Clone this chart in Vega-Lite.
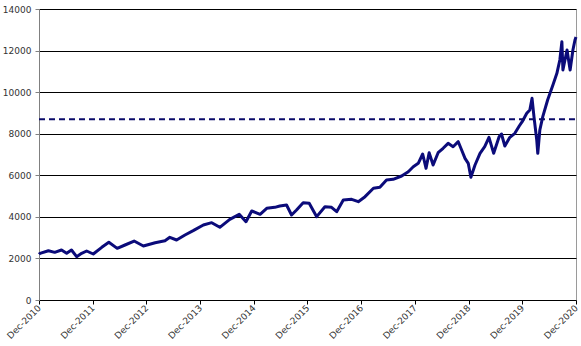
{
  "$schema": "https://vega.github.io/schema/vega-lite/v6.json",
  "width": 537,
  "height": 291,
  "autosize": {"type": "none"},
  "padding": {"left": 39, "top": 9, "right": 5, "bottom": 46},
  "background": "white",
  "config": {
    "view": {"stroke": "#9a9a9a", "strokeWidth": 1},
    "font": "DejaVu Sans"
  },
  "datasets": {
    "series": [
      {"date": "2010-12-01", "value": 2200},
      {"date": "2010-12-08", "value": 2246},
      {"date": "2011-02-03", "value": 2372},
      {"date": "2011-03-18", "value": 2293},
      {"date": "2011-05-03", "value": 2405},
      {"date": "2011-06-07", "value": 2246},
      {"date": "2011-07-10", "value": 2405},
      {"date": "2011-08-14", "value": 2085},
      {"date": "2011-09-17", "value": 2246},
      {"date": "2011-10-21", "value": 2357},
      {"date": "2011-12-05", "value": 2213},
      {"date": "2012-02-01", "value": 2534},
      {"date": "2012-03-20", "value": 2775},
      {"date": "2012-05-16", "value": 2485},
      {"date": "2012-07-08", "value": 2646},
      {"date": "2012-09-08", "value": 2838},
      {"date": "2012-11-10", "value": 2598},
      {"date": "2013-01-29", "value": 2757},
      {"date": "2013-04-06", "value": 2855},
      {"date": "2013-05-09", "value": 3016},
      {"date": "2013-06-24", "value": 2887},
      {"date": "2013-08-20", "value": 3127},
      {"date": "2013-10-15", "value": 3335},
      {"date": "2013-12-23", "value": 3608},
      {"date": "2014-02-18", "value": 3720},
      {"date": "2014-04-14", "value": 3497},
      {"date": "2014-06-21", "value": 3882},
      {"date": "2014-08-24", "value": 4122},
      {"date": "2014-10-09", "value": 3768},
      {"date": "2014-11-17", "value": 4282},
      {"date": "2015-01-13", "value": 4122},
      {"date": "2015-02-27", "value": 4410},
      {"date": "2015-04-23", "value": 4458},
      {"date": "2015-05-27", "value": 4522},
      {"date": "2015-07-12", "value": 4570},
      {"date": "2015-08-15", "value": 4089},
      {"date": "2015-09-18", "value": 4330},
      {"date": "2015-11-02", "value": 4683},
      {"date": "2015-12-13", "value": 4650},
      {"date": "2016-02-02", "value": 4009},
      {"date": "2016-03-29", "value": 4490},
      {"date": "2016-05-13", "value": 4458},
      {"date": "2016-06-17", "value": 4250},
      {"date": "2016-08-01", "value": 4811},
      {"date": "2016-09-27", "value": 4843},
      {"date": "2016-11-11", "value": 4730},
      {"date": "2016-12-27", "value": 4971},
      {"date": "2017-02-22", "value": 5374},
      {"date": "2017-04-07", "value": 5422},
      {"date": "2017-05-22", "value": 5773},
      {"date": "2017-07-06", "value": 5806},
      {"date": "2017-09-02", "value": 5966},
      {"date": "2017-10-17", "value": 6173},
      {"date": "2017-11-20", "value": 6413},
      {"date": "2017-12-24", "value": 6576},
      {"date": "2018-01-23", "value": 7024},
      {"date": "2018-02-15", "value": 6336},
      {"date": "2018-03-08", "value": 7086},
      {"date": "2018-04-04", "value": 6495},
      {"date": "2018-05-08", "value": 7086},
      {"date": "2018-06-11", "value": 7298},
      {"date": "2018-07-15", "value": 7538},
      {"date": "2018-08-18", "value": 7375},
      {"date": "2018-09-22", "value": 7616},
      {"date": "2018-10-15", "value": 7216},
      {"date": "2018-11-07", "value": 6816},
      {"date": "2018-11-29", "value": 6576},
      {"date": "2018-12-17", "value": 5903},
      {"date": "2019-01-14", "value": 6495},
      {"date": "2019-02-17", "value": 7057},
      {"date": "2019-03-21", "value": 7375},
      {"date": "2019-04-19", "value": 7827},
      {"date": "2019-05-21", "value": 7057},
      {"date": "2019-06-27", "value": 7856},
      {"date": "2019-07-13", "value": 7986},
      {"date": "2019-08-05", "value": 7409},
      {"date": "2019-09-08", "value": 7827},
      {"date": "2019-10-12", "value": 8020},
      {"date": "2019-11-11", "value": 8371},
      {"date": "2019-12-01", "value": 8580},
      {"date": "2020-01-01", "value": 8982},
      {"date": "2020-01-22", "value": 9141},
      {"date": "2020-02-06", "value": 9704},
      {"date": "2020-02-19", "value": 8820},
      {"date": "2020-03-09", "value": 7697},
      {"date": "2020-03-16", "value": 7057},
      {"date": "2020-03-30", "value": 8179},
      {"date": "2020-04-19", "value": 8820},
      {"date": "2020-05-22", "value": 9622},
      {"date": "2020-06-27", "value": 10343},
      {"date": "2020-07-24", "value": 10906},
      {"date": "2020-08-13", "value": 11546},
      {"date": "2020-08-27", "value": 12427},
      {"date": "2020-09-03", "value": 11065},
      {"date": "2020-10-01", "value": 12027},
      {"date": "2020-10-22", "value": 11065},
      {"date": "2020-11-10", "value": 12027},
      {"date": "2020-11-24", "value": 12508},
      {"date": "2020-12-01", "value": 12650}
    ],
    "threshold": [
      {"date": "2010-12-01", "value": 8700},
      {"date": "2020-12-01", "value": 8700}
    ]
  },
  "layer": [
    {
      "data": {"name": "series"},
      "mark": {"type": "line", "color": "#0b0b7a", "strokeWidth": 3, "strokeJoin": "round"},
      "encoding": {
        "x": {
          "field": "date",
          "type": "temporal",
          "scale": {"domain": [{"year": 2010, "month": 12, "date": 1}, {"year": 2020, "month": 12, "date": 1}]},
          "axis": {
            "title": null,
            "values": [
              {"year": 2010, "month": 12, "date": 1},
              {"year": 2011, "month": 12, "date": 1},
              {"year": 2012, "month": 12, "date": 1},
              {"year": 2013, "month": 12, "date": 1},
              {"year": 2014, "month": 12, "date": 1},
              {"year": 2015, "month": 12, "date": 1},
              {"year": 2016, "month": 12, "date": 1},
              {"year": 2017, "month": 12, "date": 1},
              {"year": 2018, "month": 12, "date": 1},
              {"year": 2019, "month": 12, "date": 1},
              {"year": 2020, "month": 12, "date": 1}
            ],
            "format": "%b-%Y",
            "labelAngle": -45,
            "labelAlign": "right",
            "labelBaseline": "middle",
            "labelFontSize": 9,
            "labelColor": "#333333",
            "labelPadding": 2,
            "labelFlush": false,
            "labelOverlap": false,
            "grid": false,
            "domain": false,
            "ticks": true,
            "tickSize": 4,
            "tickColor": "#000000"
          }
        },
        "y": {
          "field": "value",
          "type": "quantitative",
          "scale": {"domain": [0, 14000], "nice": false},
          "axis": {
            "title": null,
            "values": [0, 2000, 4000, 6000, 8000, 10000, 12000, 14000],
            "format": "d",
            "labelFontSize": 9,
            "labelColor": "#333333",
            "labelPadding": 4,
            "labelFlush": false,
            "grid": true,
            "gridColor": "#000000",
            "gridWidth": 1,
            "gridOpacity": 1,
            "domain": true,
            "domainColor": "#808080",
            "ticks": true,
            "tickSize": 4,
            "tickColor": "#808080"
          }
        }
      }
    },
    {
      "data": {"name": "threshold"},
      "mark": {"type": "line", "color": "#0b0b6a", "strokeWidth": 2, "strokeDash": [6, 4]},
      "encoding": {
        "x": {"field": "date", "type": "temporal"},
        "y": {"field": "value", "type": "quantitative"}
      }
    }
  ]
}
